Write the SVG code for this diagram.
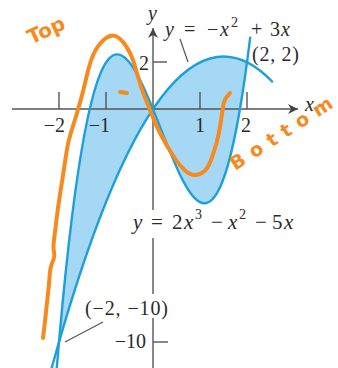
<svg xmlns="http://www.w3.org/2000/svg" width="338" height="368" viewBox="0 0 338 368">
<style>
.ax{stroke:#555;stroke-width:1.4;fill:none}
.crv{stroke:#1E9FD9;stroke-width:2.4;fill:none}
.reg{fill:#A5D8F4;stroke:none}
.lbl{font-family:"Liberation Serif",serif;font-size:20px;fill:#2a2a2a}
.big{font-size:21px}
.it{font-style:italic}
.sup{font-size:14px}
.ldr{stroke:#555;stroke-width:1.2;fill:none}
.ink{stroke:#F78A1E;stroke-width:4;fill:none;stroke-linecap:round;stroke-linejoin:round}
.hand{font-family:"DejaVu Sans",sans-serif;font-weight:bold;fill:#F78A1E}
</style>
<defs>
<marker id="arr" markerWidth="12" markerHeight="10" refX="10" refY="5" orient="auto" markerUnits="userSpaceOnUse">
<path d="M0,0 L10,5 L0,10 L3,5 Z" fill="#444"/>
</marker>
</defs>
<g id="region">
<path class="reg" d="M59,342 C121.67,-372.5 184.33,528.4 247,62.4 Q153,15.8 59,342 Z"/>
</g>
<g id="axes">
<line class="ax" x1="12" y1="109" x2="298" y2="109" marker-end="url(#arr)"/>
<line class="ax" x1="153" y1="210" x2="153" y2="28" marker-end="url(#arr)"/>
<line class="ax" x1="153" y1="238" x2="153" y2="294"/>
<line class="ax" x1="153" y1="318" x2="153" y2="368"/>
<line class="ax" x1="59" y1="92" x2="59" y2="109"/>
<line class="ax" x1="106" y1="92" x2="106" y2="109"/>
<line class="ax" x1="200" y1="92" x2="200" y2="109"/>
<line class="ax" x1="247" y1="92" x2="247" y2="109"/>
<line class="ax" x1="153" y1="62" x2="167" y2="62"/>
<line class="ax" x1="153" y1="342" x2="168" y2="342"/>
</g>
<g id="curves">
<path id="cubic" class="crv" d="M56.18,375.25 C120.88,-413.18 185.59,568.13 250.29,36.65"/>
<path id="parabola" class="crv" d="M49.6,375.55 Q161.23,-33.95 272.85,82.26"/>
</g>
<g id="connectors">
<line class="ldr" x1="180" y1="39" x2="188" y2="62"/>
<line class="ldr" x1="103" y1="322" x2="65" y2="342"/>
</g>
<g id="labels">
<text class="lbl it" x="148" y="20">y</text>
<text class="lbl it" x="305" y="111">x</text>
<text class="lbl" x="65" y="132" text-anchor="end">−2</text>
<text class="lbl" x="110" y="132" text-anchor="end">−1</text>
<text class="lbl" x="200" y="132" text-anchor="middle">1</text>
<text class="lbl" x="246" y="132" text-anchor="middle">2</text>
<text class="lbl" x="149" y="70" text-anchor="end">2</text>
<text class="lbl" x="146" y="348" text-anchor="end">−10</text>
<text class="lbl" x="85" y="315" textLength="83" lengthAdjust="spacing">(−2, −10)</text>
<text class="lbl" x="252" y="61" textLength="47" lengthAdjust="spacing">(2, 2)</text>
<text class="lbl"><tspan class="it" x="165" y="36">y</tspan><tspan x="184">=</tspan><tspan x="207">−</tspan><tspan class="it" x="220">x</tspan><tspan class="sup" x="231" y="27">2</tspan><tspan x="251" y="36">+</tspan><tspan x="270">3</tspan><tspan class="it" x="281">x</tspan></text>
<text class="lbl big"><tspan class="it" x="133" y="229">y</tspan><tspan x="151">=</tspan><tspan x="172">2</tspan><tspan class="it" x="184">x</tspan><tspan class="sup" x="195" y="219">3</tspan><tspan x="211" y="229">−</tspan><tspan class="it" x="228">x</tspan><tspan class="sup" x="239" y="219">2</tspan><tspan x="255" y="229">−</tspan><tspan x="272">5</tspan><tspan class="it" x="284">x</tspan></text>
</g>
<g id="annotations">
<path class="ink" d="M43,338 Q45,322 46,312 Q47,302 48,293.5 Q49,285 49.5,277.5 Q50,270 51,266.5 Q52,263 53.5,259.5 Q55,256 54,252 Q53,248 54,240 Q55,232 56.5,219.5 Q58,207 60,194.5 Q62,182 63.5,172 Q65,162 66.5,152 Q68,142 70.5,134 Q73,126 75.5,118 Q78,110 81,99 Q84,88 86,79 Q88,70 90.5,62 Q93,54 96.5,48.5 Q100,43 103.5,40 Q107,37 110,36 Q113,35 116.5,36.5 Q120,38 123.5,42.5 Q127,47 130,53 Q133,59 135.5,68 Q138,77 140.5,85 Q143,93 146,100 Q149,107 152,115 Q155,123 158.5,130 Q162,137 166,144 Q170,151 175,158.5 Q180,166 185,170.5 Q190,175 195,175 Q200,175 204,171.5 Q208,168 211,160 Q214,152 216.5,143 Q219,134 220.5,124 Q222,114 223,107 Q224,100 227,96.5 L230,93"/>
<path class="ink" d="M120,92 L127,93"/>
<text class="hand" x="46" y="37" font-size="20" text-anchor="middle" transform="rotate(-25 46 30)">Top</text>
<text class="hand" x="281" y="140" font-size="19" text-anchor="middle" textLength="118" lengthAdjust="spacing" transform="rotate(-33 281 133)">Bottom</text>
</g>
</svg>
